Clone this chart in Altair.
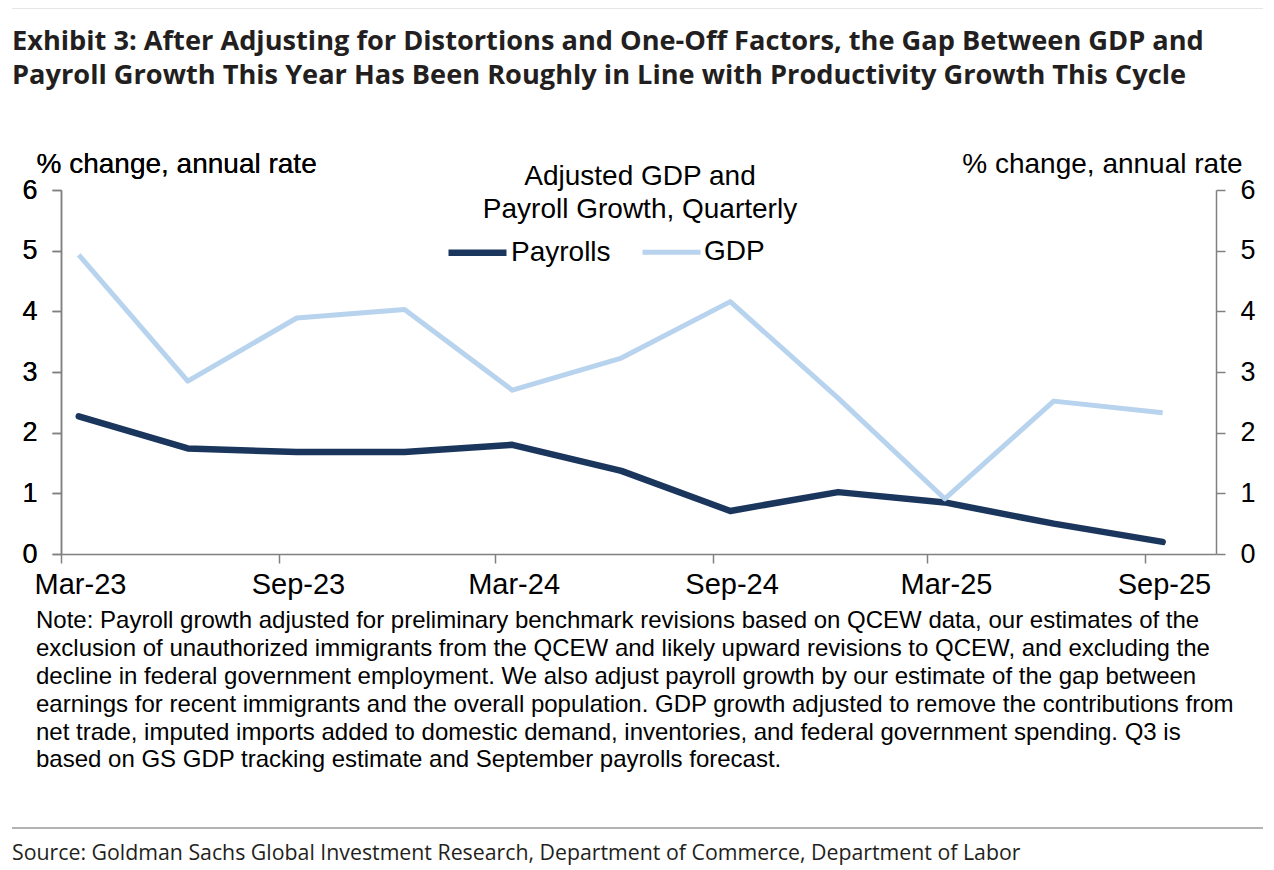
import altair as alt
import pandas as pd

# ---------------- data ----------------
quarter_dates = ["2023-03-16", "2023-06-16", "2023-09-16", "2023-12-16",
                 "2024-03-16", "2024-06-16", "2024-09-16", "2024-12-16",
                 "2025-03-16", "2025-06-16", "2025-09-16"]
payrolls = [2.27, 1.74, 1.68, 1.68, 1.80, 1.37, 0.71, 1.02, 0.85, 0.50, 0.20]
gdp = [4.93, 2.85, 3.89, 4.03, 2.70, 3.23, 4.16, 2.57, 0.91, 2.52, 2.33]

series_names = ["Payrolls", "GDP"]
series_colors = ["#1B365D", "#B8D3EE"]
series_widths = [6.5, 5]

tick_months = [(2023, 3), (2023, 9), (2024, 3), (2024, 9), (2025, 3), (2025, 9)]
y_ticks = [0, 1, 2, 3, 4, 5, 6]

title_lines = [
    "Exhibit 3: After Adjusting for Distortions and One-Off Factors, the Gap Between GDP and",
    "Payroll Growth This Year Has Been Roughly in Line with Productivity Growth This Cycle",
]
legend_title_lines = ["Adjusted GDP and", "Payroll Growth, Quarterly"]
axis_title = "% change, annual rate"
note_lines = [
    "Note: Payroll growth adjusted for preliminary benchmark revisions based on QCEW data, our estimates of the",
    "exclusion of unauthorized immigrants from the QCEW and likely upward revisions to QCEW, and excluding the",
    "decline in federal government employment. We also adjust payroll growth by our estimate of the gap between",
    "earnings for recent immigrants and the overall population. GDP growth adjusted to remove the contributions from",
    "net trade, imputed imports added to domestic demand, inventories, and federal government spending. Q3 is",
    "based on GS GDP tracking estimate and September payrolls forecast.",
]
source_text = "Source: Goldman Sachs Global Investment Research, Department of Commerce, Department of Labor"

# ---------------- layout ----------------
W, H = 1155, 364
PAD_L, PAD_T = 53, 182
PAD_R = 1258 - PAD_L - W
PAD_B = 862 - PAD_T - H

CHART_FONT = "Liberation Sans"
HEAD_FONT = "Open Sans"

df = pd.DataFrame({
    "date": quarter_dates * 2,
    "value": payrolls + gdp,
    "series": [series_names[0]] * len(payrolls) + [series_names[1]] * len(gdp),
})

x_enc = alt.X(
    "date:T",
    title=None,
    scale=alt.Scale(
        type="utc",
        domain=[alt.DateTime(year=2023, month=3, date=1, utc=True),
                alt.DateTime(year=2025, month=10, date=31, utc=True)],
    ),
    axis=alt.Axis(
        values=[alt.DateTime(year=y, month=m, date=1, utc=True) for y, m in tick_months],
        labelExpr="utcFormat(datum.value, '%b-%y')",
        labelOffset=19,
        labelFlush=False,
        labelOverlap=False,
        labelAlign="center",
        labelPadding=30,
        labelBaseline="alphabetic",
        labelFontSize=29,
        tickSize=9,
        grid=False,
    ),
)

y_scale = alt.Scale(domain=[0, 6], nice=False, zero=True)


def y_axis(orient):
    return alt.Axis(
        orient=orient,
        values=y_ticks,
        title=axis_title,
        titleAngle=0,
        titleX=-25 if orient == "left" else 26,
        titleY=-18,
        titleAlign="left" if orient == "left" else "right",
        titleBaseline="alphabetic",
        titleFontSize=28,
        titleFontWeight="normal",
        titleFont=CHART_FONT,
        titleColor="#000000",
        tickSize=9,
        labelPadding=15,
        labelFontSize=27,
        labelBaseline="middle",
        labelFlush=False,
        grid=False,
    )


color_enc = alt.Color(
    "series:N",
    scale=alt.Scale(domain=series_names, range=series_colors),
    legend=alt.Legend(
        title=None,
        orient="none",
        legendX=384,
        legendY=30,
        direction="horizontal",
        symbolType="stroke",
        symbolSize=3364,
        symbolStrokeWidth=6,
        labelFont=CHART_FONT,
        labelFontSize=28,
        labelColor="#000000",
        labelOffset=1,
        columnPadding=21,
        padding=0,
    ),
)
width_enc = alt.StrokeWidth(
    "series:N", scale=alt.Scale(domain=series_names, range=series_widths), legend=None
)

base = alt.Chart(df)

line_pay = base.transform_filter(alt.datum.series == series_names[0]).mark_line(
    strokeCap="round", strokeJoin="round"
).encode(x=x_enc, y=alt.Y("value:Q", scale=y_scale, axis=y_axis("left")),
         color=color_enc, strokeWidth=width_enc)

line_gdp = base.transform_filter(alt.datum.series == series_names[1]).mark_line(
    strokeCap="butt", strokeJoin="round"
).encode(x=x_enc, y=alt.Y("value:Q", scale=y_scale, axis=y_axis("left")),
         color=color_enc, strokeWidth=width_enc)

right_axis = base.mark_point(opacity=0).encode(
    x=x_enc, y=alt.Y("value:Q", scale=y_scale, axis=y_axis("right"))
)


def text_layer(s, x, y, font, size, weight="normal", align="left", color="#000000"):
    return alt.Chart(pd.DataFrame({"label": [s]})).mark_text(
        font=font, fontSize=size, fontWeight=weight, align=align,
        baseline="alphabetic", color=color,
    ).encode(text="label:N", x=alt.value(x), y=alt.value(y))


def hrule(y, x1, x2):
    return alt.Chart(pd.DataFrame({"r": [0]})).mark_rule(
        color="#9a9a9a", strokeWidth=1.5
    ).encode(x=alt.value(x1), x2=alt.value(x2), y=alt.value(y))


texts = []
# header
texts.append(hrule(-182.5, -49, 1202))
for i, line in enumerate(title_lines):
    texts.append(text_layer(line, -49, -140 + 34 * i, HEAD_FONT, 27.2, "bold", color="#231f20"))
# legend title
for i, line in enumerate(legend_title_lines):
    texts.append(text_layer(line, 579, -5 + 33 * i, CHART_FONT, 28, align="center"))
# note
for i, line in enumerate(note_lines):
    texts.append(text_layer(line, -25, 438.3 + 27.8 * i, CHART_FONT, 24))
# footer
texts.append(hrule(638, -49, 1202))
texts.append(text_layer(source_text, -49, 670, HEAD_FONT, 21.3, color="#231f20"))

chart = alt.layer(line_pay, line_gdp, right_axis, *texts).resolve_axis(
    y="independent"
).properties(
    width=W,
    height=H,
    padding={"left": PAD_L, "top": PAD_T, "right": PAD_R, "bottom": PAD_B},
    autosize=alt.AutoSizeParams(type="none"),
).configure_view(stroke=None).configure_axis(
    domainColor="#808080",
    tickColor="#808080",
    domainWidth=1.5,
    tickWidth=1.5,
    labelFont=CHART_FONT,
    labelColor="#000000",
)

chart.save("out.html", embed_options={"renderer": "svg", "actions": False})
